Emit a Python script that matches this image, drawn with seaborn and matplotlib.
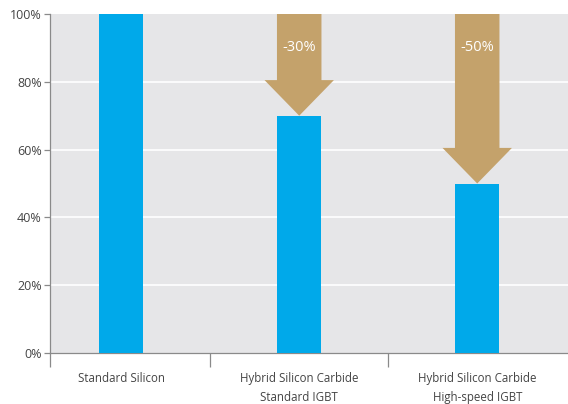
import matplotlib
matplotlib.use("Agg")
import matplotlib.pyplot as plt
import seaborn as sns
import pandas as pd
from matplotlib.patches import Polygon
from matplotlib.ticker import FixedLocator, PercentFormatter

categories = ["Standard Silicon", "Hybrid Silicon Carbide\nStandard IGBT",
              "Hybrid Silicon Carbide\nHigh-speed IGBT"]
values = [1.00, 0.70, 0.50]
reductions = [None, "-30%", "-50%"]
yticks = [0, 0.2, 0.4, 0.6, 0.8, 1.0]

sns.set_theme(style="white")
plt.rcParams['font.family'] = ['Open Sans', 'DejaVu Sans']

fig = plt.figure(figsize=(5.68, 4.04), dpi=100)
ax = fig.add_axes([50/568, 1 - 353/404, 518/568, (353 - 14)/404])
ax.set_facecolor("#e6e6e8")

df = pd.DataFrame({"cat": categories, "val": values})
sns.barplot(data=df, x="cat", y="val", color="#00a9ea", saturation=1,
            width=0.25, ax=ax, zorder=3, linewidth=0, edgecolor="none")

ax.set_xlim(-0.4, 2.51)
ax.set_ylim(0, 1.0)
ax.yaxis.set_major_locator(FixedLocator(yticks))
ax.yaxis.set_major_formatter(PercentFormatter(1.0, decimals=0))
for y in yticks[1:-1]:
    ax.axhline(y, color="white", lw=1.2, zorder=1)

# arrows
arrow_color = "#c4a26b"
shaft_w = 0.25
head_w = 0.39
head_len = 0.105
for i, (v, lab) in enumerate(zip(values, reductions)):
    if lab is None:
        continue
    top = 1.0
    hs = v + head_len
    pts = [(i - shaft_w/2, top), (i + shaft_w/2, top), (i + shaft_w/2, hs),
           (i + head_w/2, hs), (i, v), (i - head_w/2, hs), (i - shaft_w/2, hs)]
    ax.add_patch(Polygon(pts, closed=True, facecolor=arrow_color,
                         edgecolor="none", zorder=4, clip_on=False))
    ax.text(i, 0.9, lab, color="white", ha="center", va="center",
            fontsize=10.5, zorder=5)

for s in ["top", "right"]:
    ax.spines[s].set_visible(False)
for s in ["left", "bottom"]:
    ax.spines[s].set_color("#8a8a8a")
    ax.spines[s].set_linewidth(0.9)
ax.spines["left"].set_bounds(0, 1.0)

ax.set_xlabel("")
ax.set_ylabel("")
ax.tick_params(axis="y", which="major", length=4, width=0.9, color="#8a8a8a",
               labelsize=9, labelcolor="#444444", pad=2, left=True)
ax.tick_params(axis="x", which="major", length=0, labelsize=8.3,
               labelcolor="#444444", pad=14)
for t in ax.get_xticklabels():
    t.set_linespacing(1.6)
ax.xaxis.set_minor_locator(FixedLocator([-0.4, 0.5, 1.5]))
ax.tick_params(axis="x", which="minor", length=10, width=0.9, color="#8a8a8a",
               bottom=True)

fig.savefig("out.png", dpi=100)
